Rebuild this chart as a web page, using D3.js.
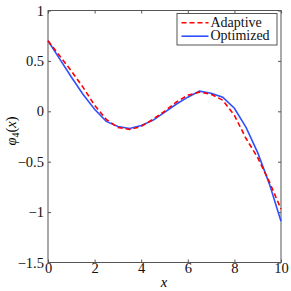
<!DOCTYPE html>
<html>
<head>
<meta charset="utf-8">
<script src="https://cdn.jsdelivr.net/npm/d3@7"></script>
<style>
  body { margin: 0; background: #fff; }
</style>
</head>
<body>
<svg id="chart" width="291" height="291"></svg>
<script>
// values
const xs        = [0, 0.5, 1, 1.5, 2, 2.5, 3, 3.5, 4, 4.5, 5, 5.5, 6, 6.5, 7, 7.5, 8, 8.5, 9, 9.5, 10]
const adaptive  = [0.70, 0.55, 0.40, 0.24, 0.06, -0.08, -0.16, -0.18, -0.15, -0.08, 0.00, 0.09, 0.16, 0.19, 0.17, 0.11, -0.04, -0.27, -0.46, -0.70, -0.97]
const optimized = [0.70, 0.52, 0.34, 0.17, 0.02, -0.10, -0.15, -0.17, -0.14, -0.09, -0.01, 0.07, 0.14, 0.20, 0.18, 0.14, 0.03, -0.16, -0.41, -0.72, -1.09]
const xTicks = [0, 2, 4, 6, 8, 10]
const yTicks = [-1.5, -1, -0.5, 0, 0.5, 1]

const FONT = "'Liberation Serif', 'Times New Roman', serif"
const svg = d3.select('#chart')
const mLeft = 48, mRight = 281, mTop = 10.5, mBottom = 262.5

const x = d3.scaleLinear().domain([0, 10]).range([mLeft, mRight])
const y = d3.scaleLinear().domain([-1.5, 1]).range([mBottom, mTop])

// frame
svg.append('rect')
  .attr('x', mLeft).attr('y', mTop)
  .attr('width', mRight - mLeft).attr('height', mBottom - mTop)
  .attr('fill', 'none').attr('stroke', '#555').attr('stroke-width', 1)

// ticks pointing inwards, on all four sides
const axB = d3.axisBottom(x).tickValues(xTicks).tickSize(-3).tickPadding(0).tickFormat(d3.format('d'))
const axT = d3.axisTop(x).tickValues(xTicks).tickSize(-3).tickFormat('')
const axL = d3.axisLeft(y).tickValues(yTicks).tickSize(-3).tickPadding(4).tickFormat(d => d < 0 ? '\u2212' + Math.abs(d) : d)
const axR = d3.axisRight(y).tickValues(yTicks).tickSize(-3).tickFormat('')

function styleAxis(g) {
  g.select('.domain').remove()
  g.selectAll('.tick line').attr('stroke', '#555')
  g.selectAll('.tick text').attr('fill', '#111').style('font-size', '14.5px').style('font-family', FONT)
}
svg.append('g').attr('transform', `translate(0,${mBottom})`).call(axB).call(styleAxis)
svg.append('g').attr('transform', `translate(0,${mTop})`).call(axT).call(styleAxis)
svg.append('g').attr('transform', `translate(${mLeft},0)`).call(axL).call(styleAxis)
svg.append('g').attr('transform', `translate(${mRight},0)`).call(axR).call(styleAxis)

// lines
const line = d3.line().x((d, i) => x(xs[i])).y(d => y(d))

svg.append('path').datum(optimized)
  .attr('d', line).attr('fill', 'none')
  .attr('stroke', '#3050ff').attr('stroke-width', 1.6)

svg.append('path').datum(adaptive)
  .attr('d', line).attr('fill', 'none')
  .attr('stroke', '#ff0000').attr('stroke-width', 1.6)
  .attr('stroke-dasharray', '5,3')

// legend
const lg = svg.append('g')
lg.append('rect').attr('x', 177).attr('y', 13.5).attr('width', 100).attr('height', 31.5)
  .attr('fill', '#fff').attr('stroke', '#555').attr('stroke-width', 1)
const entries = [
  { name: 'Adaptive', color: '#ff0000', dash: '5,3' },
  { name: 'Optimized', color: '#3050ff', dash: null }
]
entries.forEach((e, i) => {
  const yy = 22.7 + i * 13.5
  lg.append('line').attr('x1', 181.5).attr('x2', 208.5).attr('y1', yy).attr('y2', yy)
    .attr('stroke', e.color).attr('stroke-width', 1.6)
    .attr('stroke-dasharray', e.dash)
  lg.append('text').attr('x', 210.5).attr('y', yy + 4)
    .style('font-family', FONT).style('font-size', '14px').attr('fill', '#111').text(e.name)
})

// axis labels
svg.append('text').attr('x', 164).attr('y', 287)
  .attr('text-anchor', 'middle').style('font-family', FONT).style('font-size', '14.5px')
  .style('font-style', 'italic').text('x')

const yl = svg.append('text')
  .attr('transform', 'translate(16,131) rotate(-90)')
  .attr('text-anchor', 'middle').style('font-family', FONT).style('font-size', '14.5px')
yl.append('tspan').style('font-style', 'italic').text('\u03c6')
yl.append('tspan').attr('dy', 3).style('font-size', '10px').text('4')
yl.append('tspan').attr('dy', -3).text('(')
yl.append('tspan').style('font-style', 'italic').text('x')
yl.append('tspan').text(')')
</script>
</body>
</html>
